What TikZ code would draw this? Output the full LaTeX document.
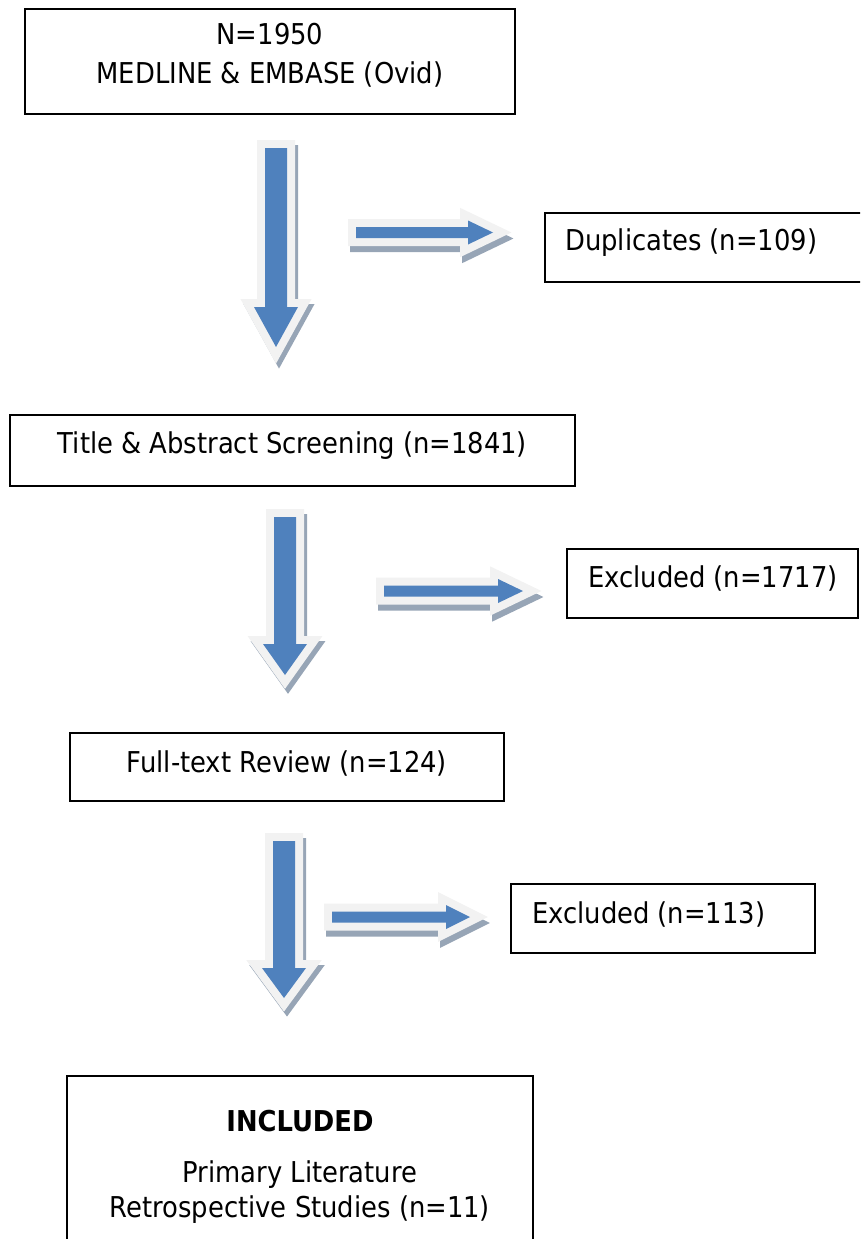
\documentclass[tikz,border=0pt]{standalone}
\usepackage{fontspec}
\setmainfont{DejaVu Sans Condensed}
\definecolor{arrowblue}{HTML}{4F81BD}
\definecolor{glowgray}{HTML}{F2F2F2}
\definecolor{shadowgray}{HTML}{97A5B6}
\tikzset{
  box/.style={draw, line width=2pt, inner sep=0pt},
  lbl/.style={font=\fontsize{28.7}{34}\selectfont, inner sep=0pt},
  arrshadow/.style={fill=shadowgray, draw=shadowgray, line width=16pt, miter limit=10},
  arrglow/.style={fill=glowgray, draw=glowgray, line width=16pt, miter limit=10},
  arrblue/.style={fill=arrowblue}
}
\begin{document}
\begin{tikzpicture}[x=1pt,y=-1pt]
  \useasboundingbox (0,0) rectangle (860,1239);
  \clip (0,0) rectangle (860,1239);

  % boxes
  \node[box, minimum width=490pt, minimum height=105pt] (src) at (270,61.5) {};
  \node[box, minimum width=325pt, minimum height=69pt] (dup) at (707.5,247.5) {};
  \node[box, minimum width=565pt, minimum height=71.5pt] (title) at (292.5,450.5) {};
  \node[box, minimum width=291pt, minimum height=69pt] (exclA) at (712.5,583.5) {};
  \node[box, minimum width=434pt, minimum height=68pt] (full) at (287,767) {};
  \node[box, minimum width=304pt, minimum height=69pt] (exclB) at (663,918.5) {};
  \node[box, minimum width=466pt, minimum height=184pt] (incl) at (300,1168) {};

  % texts
  \node[lbl, anchor=base] (srcA) at (270,45) {N=1950};
  \node[lbl, anchor=base] (srcB) at (270,83) {MEDLINE \& EMBASE (Ovid)};
  \node[lbl, anchor=base west] (dupText) at (565,250) {Duplicates (n=109)};
  \node[lbl, anchor=base] (titleText) at (292.5,453) {Title \& Abstract Screening (n=1841)};
  \node[lbl, anchor=base west] (exclAText) at (588,587) {Excluded (n=1717)};
  \node[lbl, anchor=base] (fullText) at (287,772) {Full-text Review (n=124)};
  \node[lbl, anchor=base west] (exclBText) at (532,923) {Excluded (n=113)};
  \node[lbl, anchor=base, font=\fontsize{28.7}{34}\selectfont\bfseries] (inclA) at (300,1131) {INCLUDED};
  \node[lbl, anchor=base] (inclB) at (300,1182) {Primary Literature};
  \node[lbl, anchor=base] (inclC) at (300,1217) {Retrospective Studies (n=11)};

  % down arrows
  \foreach \cx/\ytop/\yneck/\ytip in {276/148/307/347, 285/517/644/675, 284/841/968/998} {
    \filldraw[arrshadow, shift={(3,5)}] (\cx-11,\ytop) -- (\cx+11,\ytop) -- (\cx+11,\yneck) -- (\cx+22,\yneck)
      -- (\cx,\ytip) -- (\cx-22,\yneck) -- (\cx-11,\yneck) -- cycle;
    \filldraw[arrglow] (\cx-11,\ytop) -- (\cx+11,\ytop) -- (\cx+11,\yneck) -- (\cx+22,\yneck)
      -- (\cx,\ytip) -- (\cx-22,\yneck) -- (\cx-11,\yneck) -- cycle;
    \fill[arrblue] (\cx-11,\ytop) -- (\cx+11,\ytop) -- (\cx+11,\yneck) -- (\cx+22,\yneck)
      -- (\cx,\ytip) -- (\cx-22,\yneck) -- (\cx-11,\yneck) -- cycle;
  }

  % right arrows
  \foreach \xl/\xn/\xt/\cy in {356/468/493/232.5, 384/498/523/591, 332/446/470/917} {
    \filldraw[arrshadow, shift={(2,6)}] (\xl,\cy-5.5) -- (\xn,\cy-5.5) -- (\xn,\cy-12) -- (\xt,\cy)
      -- (\xn,\cy+12) -- (\xn,\cy+5.5) -- (\xl,\cy+5.5) -- cycle;
    \filldraw[arrglow] (\xl,\cy-5.5) -- (\xn,\cy-5.5) -- (\xn,\cy-12) -- (\xt,\cy)
      -- (\xn,\cy+12) -- (\xn,\cy+5.5) -- (\xl,\cy+5.5) -- cycle;
    \fill[arrblue] (\xl,\cy-5.5) -- (\xn,\cy-5.5) -- (\xn,\cy-12) -- (\xt,\cy)
      -- (\xn,\cy+12) -- (\xn,\cy+5.5) -- (\xl,\cy+5.5) -- cycle;
  }
\end{tikzpicture}
\end{document}
